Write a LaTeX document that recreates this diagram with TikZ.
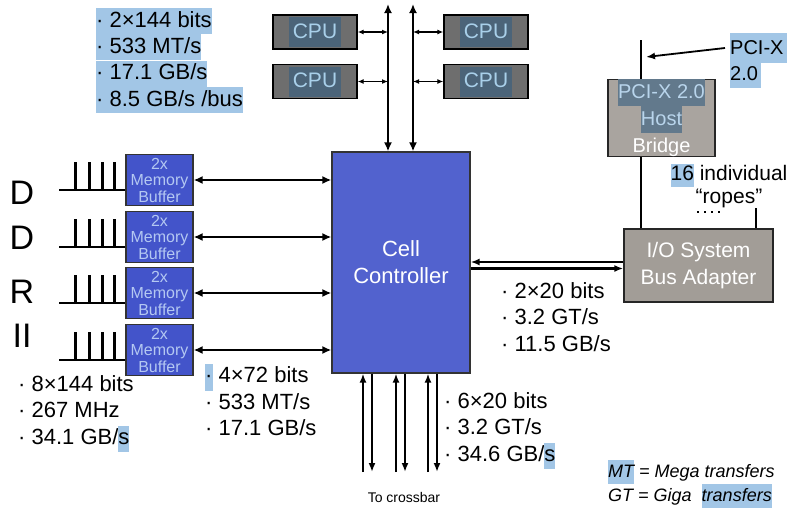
\documentclass[tikz,border=0pt]{standalone}
\usepackage{fontspec}
\setmainfont{Liberation Sans}
\usetikzlibrary{arrows.meta, positioning}
\definecolor{hlblue}{HTML}{A2C6E6}
\definecolor{cpugray}{HTML}{6E6E6E}
\definecolor{cpushade}{HTML}{4B6479}
\definecolor{cputext}{HTML}{A9D0EA}
\definecolor{ctrlblue}{HTML}{5262CE}
\definecolor{bufblue}{HTML}{4354CA}
\definecolor{buftext}{HTML}{B4C8F2}
\definecolor{adaptergray}{HTML}{A29D97}
\definecolor{bridgegray}{HTML}{A9A49F}
\definecolor{bridgeshade}{HTML}{62798C}
\definecolor{bridgetext}{HTML}{B9D5EC}
\newcommand{\tintbox}[2]{{\setlength{\fboxsep}{0pt}\colorbox{#1}{\strut#2}}}
\newcommand{\hlt}[1]{\tintbox{hlblue}{#1}}

\begin{document}
\begin{tikzpicture}[
    x=1pt, y=-1pt,
    cpubox/.style={
        draw=black,
        line width=1.4pt,
        fill=cpugray,
        minimum width=84pt,
        minimum height=34pt,
        inner sep=0pt,
        text=cputext,
        font=\fontsize{21}{30}\selectfont
    },
    bufbox/.style={
        draw=black!80,
        line width=1.2pt,
        fill=bufblue,
        minimum width=67pt,
        minimum height=51pt,
        inner sep=0pt,
        align=center,
        text=buftext,
        font=\fontsize{16}{16.5}\selectfont
    },
    ctrlbox/.style={
        draw=black!80,
        line width=1.2pt,
        fill=ctrlblue,
        minimum width=138pt,
        minimum height=221pt,
        align=center,
        text=white,
        font=\fontsize{22}{27}\selectfont
    },
    graybox/.style={
        draw=black!85,
        line width=1.4pt,
        inner sep=0pt,
        align=center,
        text=white
    },
    infotext/.style={
        anchor=north west,
        align=left,
        inner sep=0pt,
        font=\fontsize{22}{26.5}\selectfont
    },
    hlline/.style={
        anchor=west,
        fill=hlblue,
        inner sep=0pt,
        text height=19pt,
        text depth=7pt,
        font=\fontsize{22}{26}\selectfont
    },
    link/.style={
        {Latex[length=9pt,width=8pt]}-{Latex[length=9pt,width=8pt]},
        line width=2.6pt
    },
    cpulink/.style={
        {Latex[length=6pt,width=5pt]}-{Latex[length=6pt,width=5pt]},
        line width=1.8pt
    },
    oneway/.style={
        -{Latex[length=9pt,width=7pt]},
        line width=2.3pt
    },
    comb/.style={line width=2.2pt},
    wire/.style={line width=2.2pt}
]
    \fill[white] (0,0) rectangle (796,512);
    \useasboundingbox (0,0) rectangle (796,512);

    % bandwidth of the CPU bus
    \node[hlline] (tl1) at (96,21) {·\ 2×144 bits};
    \node[hlline, below=0pt of tl1.south west, anchor=north west] (tl2) {·\ 533 MT/s};
    \node[hlline, below=0pt of tl2.south west, anchor=north west] (tl3) {·\ 17.1 GB/s};
    \node[hlline, below=0pt of tl3.south west, anchor=north west] (tl4) {·\ 8.5 GB/s /bus};

    % cell controller and memory side
    \node[ctrlbox] (ctrl) at (401,262.5) {Cell\\Controller};

    \foreach \i/\yy in {1/180,2/237,3/293,4/350} {
        \node[bufbox] (buf\i) at (159.5,\yy) {2x\\Memory\\Buffer};
        \draw[link] (buf\i.east) -- (buf\i.east -| ctrl.west);
        \draw[comb] ([yshift=-10pt]buf\i.west) -- ++(-66,0);
        \foreach \dx in {11,23,36,50}
            \draw[comb] ([xshift=-\dx pt, yshift=-10pt]buf\i.west) -- ++(0,-28);
    }

    \foreach \i/\yy/\ch in {1/193/D,2/238/D,3/292/R,4/336/II}
        \node[font=\fontsize{34}{34}\selectfont] (ddr\i) at (22,\yy) {\ch};

    % CPUs on the two front side buses
    \coordinate (busL) at (388,4);
    \coordinate (busR) at (413,4);
    \draw[link, line width=2.2pt] (busL) -- (busL |- ctrl.north);
    \draw[link, line width=2.2pt] (busR) -- (busR |- ctrl.north);

    \node[cpubox] (cpu1) at (315,32) {\tintbox{cpushade}{\,CPU\,}};
    \node[cpubox] (cpu2) at (315,81.5) {\tintbox{cpushade}{\,CPU\,}};
    \node[cpubox] (cpu3) at (486,32) {\tintbox{cpushade}{\,CPU\,}};
    \node[cpubox] (cpu4) at (486,81.5) {\tintbox{cpushade}{\,CPU\,}};

    \draw[cpulink] (cpu1.east) -- (cpu1.east -| busL);
    \draw[cpulink] (cpu2.east) -- (cpu2.east -| busL);
    \draw[cpulink] (cpu3.west) -- (cpu3.west -| busR);
    \draw[cpulink] (cpu4.west) -- (cpu4.west -| busR);

    % I/O side
    \node[graybox, fill=adaptergray, minimum width=149pt, minimum height=73pt,
          font=\fontsize{21}{27}\selectfont] (adapter) at (698.5,265.5) {I/O System\\Bus Adapter};

    \coordinate (ioUpper) at ([yshift=3.5pt]adapter.west);
    \coordinate (ioLower) at ([yshift=-3pt]adapter.west);
    \draw[oneway] (ioUpper) -- (ioUpper -| ctrl.east);
    \draw[oneway] (ioLower -| ctrl.east) -- (ioLower);

    \coordinate (pciTop) at (641,40);
    \draw[wire] (pciTop) -- (pciTop |- adapter.north);
    \node[graybox, fill=bridgegray, minimum width=107pt, minimum height=74pt,
          font=\fontsize{20}{27}\selectfont] (bridge) at (661.5,118)
        {\textcolor{bridgetext}{\tintbox{bridgeshade}{PCI-X 2.0}}\\
         \textcolor{bridgetext}{\tintbox{bridgeshade}{Host}}\\
         Bridge};

    \node[hlline, font=\fontsize{20}{26}\selectfont, text height=21pt, text depth=9pt] (pcixA) at (730,48) {PCI-X\,};
    \node[hlline, font=\fontsize{20}{26}\selectfont, text height=17pt, text depth=8pt,
          below=0pt of pcixA.south west, anchor=north west] (pcixB) {2.0\,};
    \coordinate (pciTip) at (646,57);
    \draw[-{Latex[length=9pt,width=7pt]}, line width=1.8pt] ([xshift=-5pt]pcixA.west) -- (pciTip);

    \node[align=center, inner sep=0pt, font=\fontsize{21}{23}\selectfont] (ropes) at (729,186)
        {\hlt{16} individual\\“ropes”};
    \draw[line width=2pt, dash pattern=on 2pt off 5pt] (697,212) -- (722,212);
    \coordinate (ropeEnd) at (756,208);
    \draw[line width=1.8pt] (ropeEnd) -- (ropeEnd |- adapter.north);

    \node[infotext] (ioInfo) at (501,282) {·\ 2×20 bits\\·\ 3.2 GT/s\\·\ 11.5 GB/s};

    % links to the crossbar
    \foreach \xx in {363,396,428} {
        \coordinate (up\xx) at (\xx,472);
        \coordinate (dn\xx) at (\xx+9,472);
        \draw[oneway] (up\xx) -- (up\xx |- ctrl.south);
        \draw[oneway] (dn\xx |- ctrl.south) -- (dn\xx);
    }
    \node[font=\fontsize{14}{16}\selectfont] (xbarLabel) at (404,497) {To crossbar};
    \node[infotext] (xbarInfo) at (444,392) {·\ 6×20 bits\\·\ 3.2 GT/s\\·\ 34.6 GB/\hlt{s}};

    % memory figures
    \node[infotext] (memInfo) at (18,375) {·\ 8×144 bits\\·\ 267 MHz\\·\ 34.1 GB/\hlt{s}};
    \node[infotext] (bufInfo) at (205,364) {\hlt{·}\ 4×72 bits\\·\ 533 MT/s\\·\ 17.1 GB/s};

    % legend
    \node[infotext, font=\fontsize{18}{24}\selectfont\itshape] (legend) at (608,460)
        {\hlt{MT} = Mega transfers\\GT = Giga\ \ \hlt{transfers}};
\end{tikzpicture}
\end{document}
